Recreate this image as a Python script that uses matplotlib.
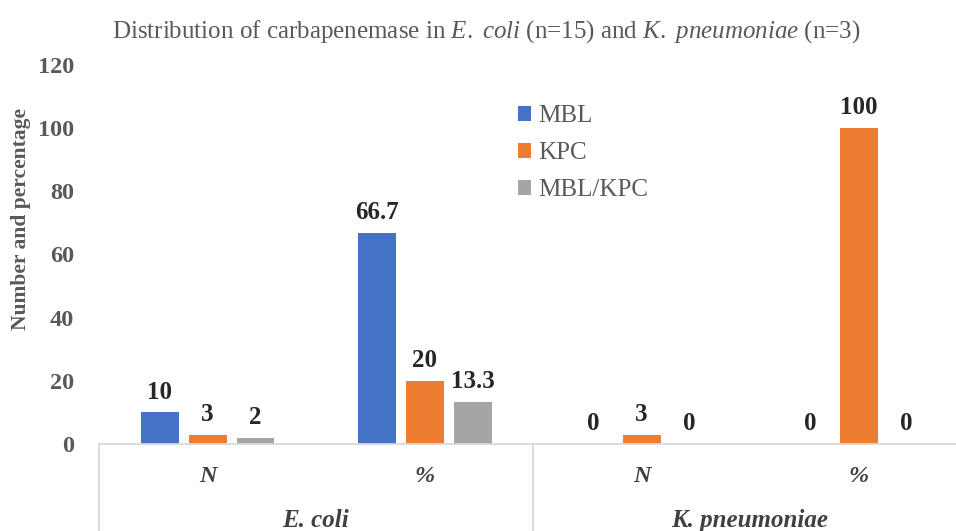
import numpy as np
import matplotlib
matplotlib.use("Agg")
import matplotlib.pyplot as plt
import matplotlib.transforms as mtransforms

plt.rcParams['font.family'] = ['Liberation Serif', 'DejaVu Serif']
plt.rcParams['mathtext.fontset'] = 'custom'
plt.rcParams['mathtext.rm'] = 'Liberation Serif'
plt.rcParams['mathtext.it'] = 'Liberation Serif:italic'

# data
sub_labels = ['N', '%', 'N', '%']
group_labels = ['E. coli', 'K. pneumoniae']
series_names = ['MBL', 'KPC', 'MBL/KPC']
mbl = [10, 66.7, 0, 0]
kpc = [3, 20, 3, 100]
mbl_kpc = [2, 13.3, 0, 0]
colors = ['#4472C4', '#ED7D31', '#A5A5A5']

fig = plt.figure(figsize=(9.56, 5.31), dpi=100)
ax = fig.add_axes([0.1036, 0.1638, 0.908, 0.714])

x = np.arange(len(sub_labels))
step = 0.221
width = 0.175
for i, (vals, name) in enumerate(zip([mbl, kpc, mbl_kpc], series_names)):
    xs = x + (i - 1) * step
    ax.bar(xs, vals, width=width, color=colors[i], label=name, zorder=2)
    for xi, v in zip(xs, vals):
        ax.text(xi, v + 2.8, f'{v:g}', ha='center', va='bottom',
                fontsize=18, fontweight='bold', color='#262626')

ax.set_xlim(-0.5, 3.5)
ax.set_ylim(0, 120)
ax.set_yticks(range(0, 121, 20))
ax.tick_params(axis='y', length=0, labelsize=17.5, labelcolor='#595959', pad=18)
for t in ax.get_yticklabels():
    t.set_fontweight('bold')
ax.set_ylabel('Number and percentage', fontsize=15.5, fontweight='bold',
              color='#595959')
ax.yaxis.set_label_coords(-0.078, 0.594)

for s in ['top', 'right', 'left']:
    ax.spines[s].set_visible(False)
ax.spines['bottom'].set_color('#d9d9d9')
ax.spines['bottom'].set_linewidth(1.3)

# multi-level category axis
ax.set_xticks(x)
ax.set_xticklabels(sub_labels, fontsize=17.5, fontstyle='italic',
                   fontweight='bold', color='#404040')
ax.tick_params(axis='x', length=0, pad=16)
trans = mtransforms.blended_transform_factory(ax.transData, ax.transAxes)
for gx, g in zip([0.5, 2.5], group_labels):
    ax.text(gx, -0.203, g, transform=trans, ha='center', va='center',
            fontsize=18, fontstyle='italic', fontweight='bold', color='#404040')
for sx in [-0.5, 1.5, 3.5]:
    ax.plot([sx, sx], [0, -0.24], transform=trans, color='#d9d9d9',
            lw=1.3, clip_on=False)

fig.suptitle('Distribution of carbapenemase in $\\it{E.}$ $\\it{coli}$ (n=15) and '
             '$\\it{K.}$ $\\it{pneumoniae}$ (n=3)', x=0.509, y=0.965, fontsize=18,
             color='#595959')

ax.legend(loc='upper left', bbox_to_anchor=(0.529, 0.825),
          bbox_transform=fig.transFigure, frameon=False, fontsize=18,
          handlelength=0.5, handleheight=0.5, handletextpad=0.3,
          labelspacing=0.6, labelcolor='#595959', borderpad=0)

fig.savefig('out.png', dpi=100)
